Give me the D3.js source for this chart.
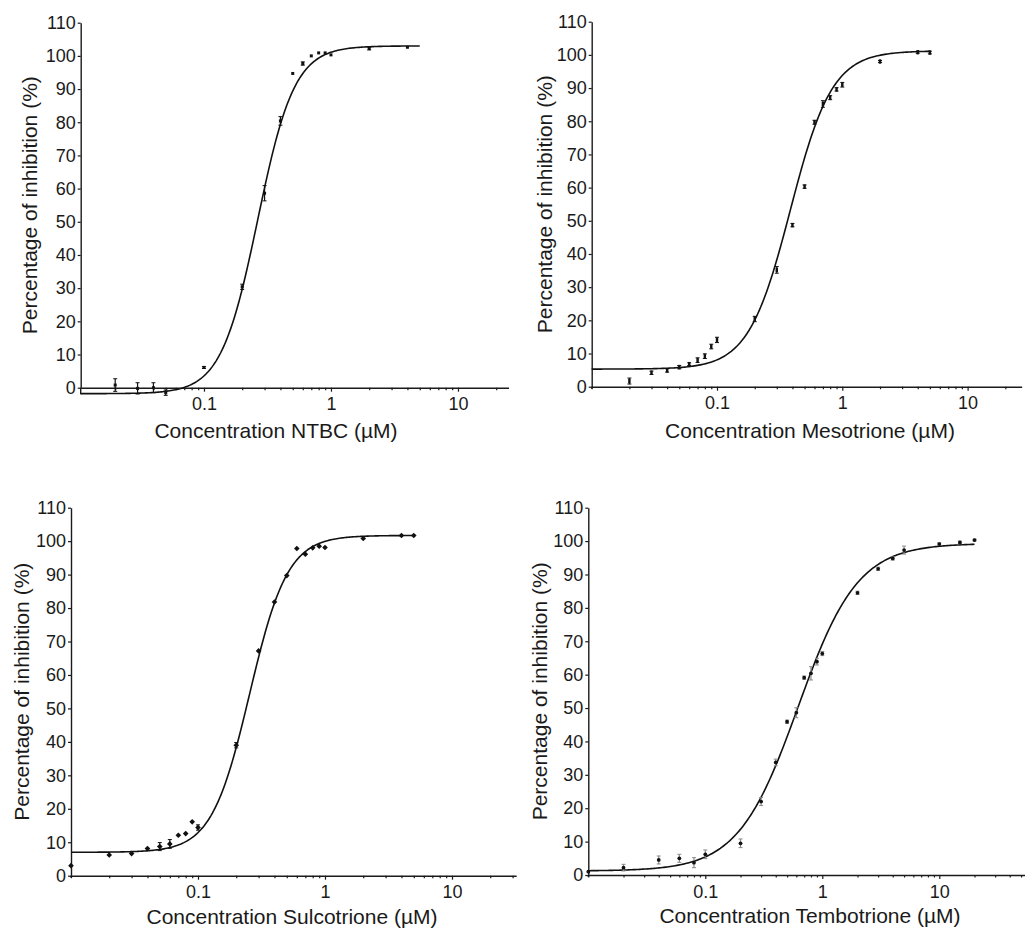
<!DOCTYPE html>
<html>
<head>
<meta charset="utf-8">
<script src="https://cdn.jsdelivr.net/npm/d3@7"></script>
<style>
  body { margin: 0; background: #fff; }
  svg { display: block; }
  text { font-family: "Liberation Sans", Arial, sans-serif; fill: #1a1a1a; }
</style>
</head>
<body>
<svg id="chart" width="1025" height="929"></svg>
<script>
// Concentrations in uM, inhibition in %, error = half height of the bar.
const ntbcConc  = [0.02, 0.03, 0.04, 0.05, 0.1, 0.2, 0.3, 0.4, 0.5, 0.6, 0.7, 0.8, 0.9, 1, 2, 4];
const ntbcInhib = [0.8, -0.2, 0.0, -1.5, 6.1, 30.4, 58.6, 80.4, 94.7, 97.7, 100.0, 100.9, 100.9, 100.3, 102.2, 102.6];
const ntbcErr   = [1.9, 1.7, 1.5, 0.8, 0.3, 0.8, 2.3, 1.3, 0, 0.5, 0, 0, 0, 0, 0.4, 0];
const ntbcFit   = [-1.8, 103.0, 0.265, 3.0];   // bottom, top, IC50, Hill slope

const mesoConc  = [0.02, 0.03, 0.04, 0.05, 0.06, 0.07, 0.08, 0.09, 0.1, 0.2, 0.3, 0.4, 0.5, 0.6, 0.7, 0.8, 0.9, 1, 2, 4, 5];
const mesoInhib = [1.7, 4.2, 4.9, 5.9, 6.8, 8.0, 9.2, 12.1, 14.1, 20.4, 35.2, 48.7, 60.3, 79.7, 85.2, 87.1, 89.6, 91.0, 98.0, 100.8, 100.7];
const mesoErr   = [0.9, 0.5, 0.5, 0.5, 0.4, 0.7, 0.7, 0.7, 0.8, 0.8, 1.0, 0.5, 0.5, 0.6, 1.0, 0.6, 0.5, 0.7, 0.3, 0.3, 0.4];
const mesoFit   = [5.3, 101.2, 0.385, 2.6];

const sulcoConc  = [0.01, 0.02, 0.03, 0.04, 0.05, 0.06, 0.07, 0.08, 0.09, 0.1, 0.2, 0.3, 0.4, 0.5, 0.6, 0.7, 0.8, 0.9, 1, 2, 4, 5];
const sulcoInhib = [3.0, 6.2, 6.6, 8.1, 8.7, 9.5, 12.1, 12.6, 16.1, 14.4, 39.0, 67.2, 81.8, 89.7, 97.8, 96.1, 98.0, 98.5, 98.1, 100.8, 101.7, 101.7];
const sulcoErr   = [0, 0, 0, 0, 1.2, 1.3, 0, 0, 0, 0.8, 0.8, 0, 0, 0, 0, 0, 0, 0, 0, 0, 0, 0];
const sulcoFit   = [7.0, 101.7, 0.255, 2.9];

const tembConc  = [0.01, 0.02, 0.04, 0.06, 0.08, 0.1, 0.2, 0.3, 0.4, 0.5, 0.6, 0.7, 0.8, 0.9, 1, 2, 3, 4, 5, 10, 15, 20];
const tembInhib = [1.0, 2.2, 4.5, 5.0, 3.7, 6.2, 9.5, 22.0, 33.7, 45.9, 48.6, 59.1, 60.4, 63.9, 66.3, 84.5, 91.7, 94.8, 97.3, 99.1, 99.6, 100.3];
const tembErr   = [0, 1.0, 1.2, 1.2, 1.5, 1.3, 1.3, 1.2, 1.0, 0.5, 1.5, 0.5, 2.0, 1.0, 0.6, 0.5, 0.5, 0.5, 1.2, 0.4, 0.4, 0.3];
const tembFit   = [1.2, 99.3, 0.62, 1.7];

const yTicks = d3.range(0, 111, 10);
const xMajorTicks = [0.1, 1, 10];

const svg = d3.select('#chart');

let panels = [
  { title: 'Concentration NTBC (\u00b5M)', conc: ntbcConc, inhib: ntbcInhib, err: ntbcErr, fit: ntbcFit,
    fitTo: 5, xDomain: [0.0107, 25], left: 80.7, perDecade: 127, top: 22.7, zero: 387.7, yMin: -2,
    marker: 'square', barColor: '#111', titleX: 276, titleY: 438, yTitleX: 30 },
  { title: 'Concentration Mesotrione (\u00b5M)', conc: mesoConc, inhib: mesoInhib, err: mesoErr, fit: mesoFit,
    fitTo: 5, xDomain: [0.01, 27], left: 591.7, perDecade: 125.3, top: 21.7, zero: 386.7, yMin: -0.6,
    marker: 'bar', barColor: '#111', titleX: 810, titleY: 438, yTitleX: 545 },
  { title: 'Concentration Sulcotrione (\u00b5M)', conc: sulcoConc, inhib: sulcoInhib, err: sulcoErr, fit: sulcoFit,
    fitTo: 5, xDomain: [0.01, 32], left: 71, perDecade: 127, top: 507.7, zero: 875.7, yMin: -0.6,
    marker: 'diamond', barColor: '#111', titleX: 292, titleY: 924, yTitleX: 22 },
  { title: 'Concentration Tembotrione (\u00b5M)', conc: tembConc, inhib: tembInhib, err: tembErr, fit: tembFit,
    fitTo: 20, xDomain: [0.01, 60], left: 588.3, perDecade: 117, top: 507.7, zero: 875, yMin: -0.6,
    marker: 'dot', barColor: '#8a8a8a', titleX: 810, titleY: 923, yTitleX: 540 }
];

let hill = function(p, x) {
  return p[0] + (p[1] - p[0]) / (1 + Math.pow(p[2] / x, p[3]));
};

let drawPanel = function(p) {
  let g = svg.append('g');
  let decades = Math.log10(p.xDomain[1]) - Math.log10(p.xDomain[0]);
  let x = d3.scaleLog().domain(p.xDomain).range([p.left, p.left + decades * p.perDecade]);
  let y = d3.scaleLinear().domain([0, 110]).range([p.zero, p.top]);

  // minor ticks on the log axis
  let minor = [];
  for (let d = -2; d <= 1; d++) {
    for (let k = 1; k <= 9; k++) {
      let v = k * Math.pow(10, d);
      if (v >= p.xDomain[0] && v <= p.xDomain[1] && xMajorTicks.indexOf(+v.toPrecision(3)) < 0) minor.push(v);
    }
  }

  g.append('g')
      .attr('transform', 'translate(0,' + y(0) + ')')
      .call(d3.axisBottom(x).tickValues(xMajorTicks).tickFormat(d3.format('~g'))
        .tickSize(4).tickSizeOuter(0).tickPadding(6));
  g.append('g')
      .attr('transform', 'translate(0,' + y(0) + ')')
      .call(d3.axisBottom(x).tickValues(minor).tickFormat('').tickSize(2.5).tickSizeOuter(0))
      .select('.domain').remove();

  g.append('g')
      .attr('transform', 'translate(' + p.left + ',0)')
      .call(d3.axisLeft(y).tickValues(yTicks).tickSize(3).tickSizeOuter(0).tickPadding(2));
  g.append('line')
      .attr('x1', p.left).attr('x2', p.left)
      .attr('y1', y(0)).attr('y2', y(p.yMin))
      .attr('stroke', '#1a1a1a').attr('stroke-width', 1.4);

  g.selectAll('.domain').attr('stroke', '#1a1a1a').attr('stroke-width', 1.4);
  g.selectAll('.tick line').attr('stroke', '#1a1a1a').attr('stroke-width', 1.2);
  g.selectAll('.tick text').attr('font-size', 18).attr('fill', '#1a1a1a');

  // fitted dose-response curve
  let xs = d3.range(0, 241).map(function(i) {
    let a = Math.log10(p.xDomain[0]), b = Math.log10(p.fitTo);
    return Math.pow(10, a + (b - a) * i / 240);
  });
  let line = d3.line()
      .x(function(c) { return x(c); })
      .y(function(c) { return y(hill(p.fit, c)); });
  g.append('path')
      .attr('fill', 'none')
      .attr('d', line(xs))
      .attr('stroke', '#111')
      .attr('stroke-width', 1.6);

  // error bars
  for (let i = 0; i < p.conc.length; i++) {
    let e = p.err[i];
    if (!e) continue;
    let cx = x(p.conc[i]);
    let y1 = y(p.inhib[i] - e), y2 = y(p.inhib[i] + e);
    g.append('line').attr('x1', cx).attr('x2', cx).attr('y1', y1).attr('y2', y2)
        .attr('stroke', p.barColor).attr('stroke-width', 1.2);
    [y1, y2].forEach(function(yy) {
      g.append('line').attr('x1', cx - 2).attr('x2', cx + 2).attr('y1', yy).attr('y2', yy)
          .attr('stroke', p.barColor).attr('stroke-width', 1);
    });
  }

  // markers
  for (let i = 0; i < p.conc.length; i++) {
    let cx = x(p.conc[i]), cy = y(p.inhib[i]);
    if (p.marker == 'square') {
      g.append('rect').attr('x', cx - 1.5).attr('y', cy - 1.5).attr('width', 3).attr('height', 3).attr('fill', '#111');
    } else if (p.marker == 'bar') {
      g.append('rect').attr('x', cx - 1.2).attr('y', cy - 2.2).attr('width', 2.4).attr('height', 4.4).attr('fill', '#111');
    } else if (p.marker == 'diamond') {
      g.append('rect').attr('x', -2).attr('y', -2).attr('width', 4).attr('height', 4)
          .attr('transform', 'translate(' + cx + ',' + cy + ') rotate(45)').attr('fill', '#111');
    } else {
      g.append('circle').attr('cx', cx).attr('cy', cy).attr('r', 1.9).attr('fill', '#111');
    }
  }

  g.append('text')
      .attr('x', p.titleX).attr('y', p.titleY)
      .attr('text-anchor', 'middle').attr('font-size', 21)
      .text(p.title);
  g.append('text')
      .attr('transform', 'translate(' + p.yTitleX + ',' + (p.top + p.zero) / 2 + ') rotate(-90)')
      .attr('text-anchor', 'middle').attr('dy', '0.35em').attr('font-size', 21)
      .text('Percentage of inhibition (%)');
};

panels.forEach(drawPanel);
</script>
</body>
</html>
